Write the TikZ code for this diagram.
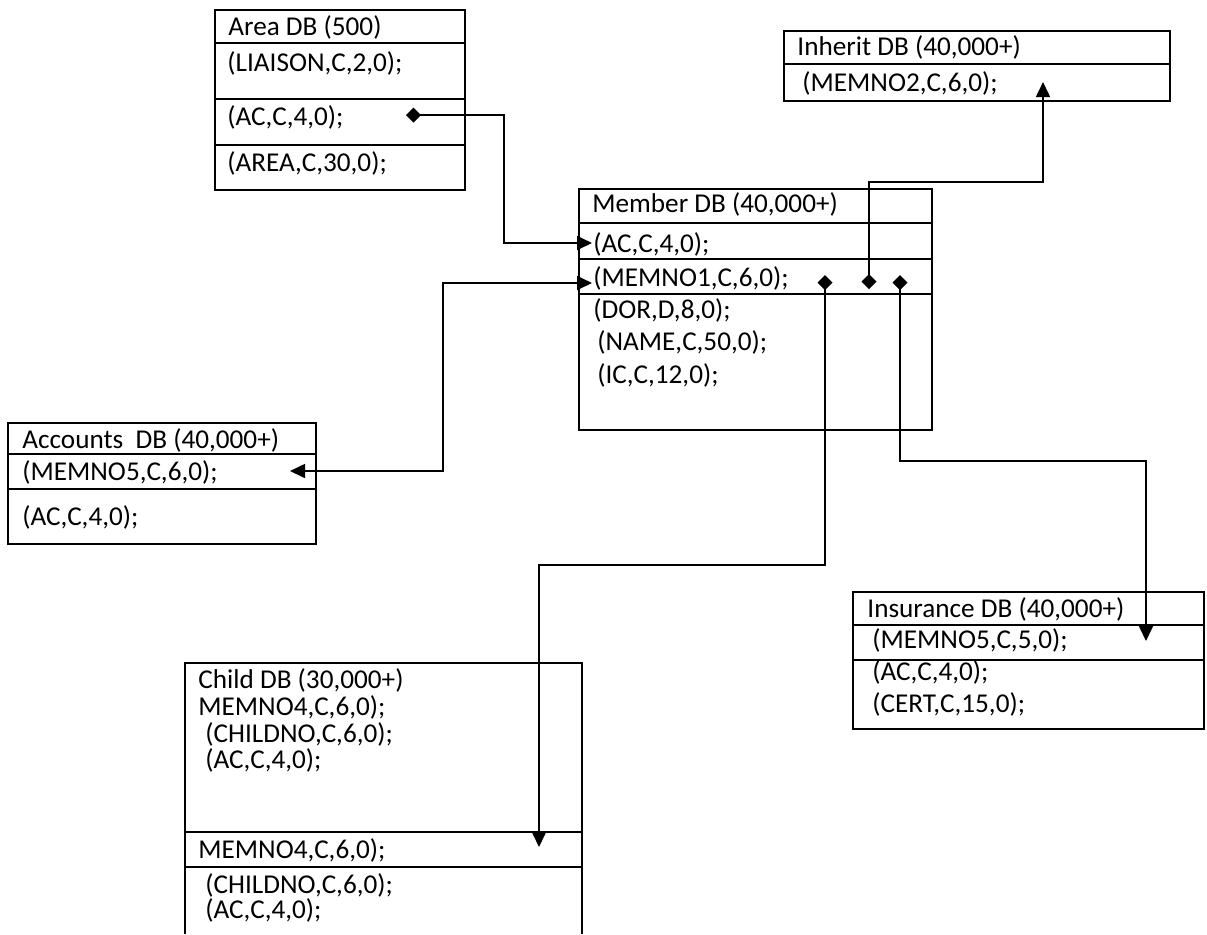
\documentclass[tikz,border=0pt]{standalone}
\usepackage{fontspec}
\setmainfont{Carlito}
\usetikzlibrary{arrows.meta,positioning,calc}

\begin{document}
\begin{tikzpicture}[
  x=0.5pt,y=-0.5pt,
  every node/.style={font=\fontsize{13.6}{14}\selectfont,inner sep=0pt,anchor=base west},
  tbl/.style={draw,line width=1pt,anchor=north west},
  sep/.style={line width=1pt},
  lnk/.style={line width=0.8pt},
  fk/.style={lnk,{Diamond[length=7.5pt,width=7.5pt]}-{Triangle[length=7.5pt,width=7pt]}},
  both/.style={lnk,{Triangle[length=7.5pt,width=7pt]}-{Triangle[length=7.5pt,width=7pt]}}
]
\useasboundingbox (0,0) rectangle (1207,934);

% tables
\node[tbl,minimum width=125pt,minimum height=90pt] (area) at (214,9) {};
\foreach \y in {43,99,145} \draw[sep] (area.west |- 0,\y) -- (area.east |- 0,\y);
\node[tbl,minimum width=193pt,minimum height=35pt] (inh) at (783,30) {};
\draw[sep] (inh.west |- 0,64) -- (inh.east |- 0,64);
\node[tbl,minimum width=176.5pt,minimum height=120.5pt] (mem) at (578,188) {};
\foreach \y in {223,259,294} \draw[sep] (mem.west |- 0,\y) -- (mem.east |- 0,\y);
\node[tbl,minimum width=154pt,minimum height=60.5pt] (acc) at (7,422) {};
\foreach \y in {454,489} \draw[sep] (acc.west |- 0,\y) -- (acc.east |- 0,\y);
\node[tbl,minimum width=175.5pt,minimum height=68.5pt] (ins) at (852,591) {};
\foreach \y in {625,660} \draw[sep] (ins.west |- 0,\y) -- (ins.east |- 0,\y);
% child table runs off the page
\draw[sep] (185,934) |- (582,663) -- (582,934);
\foreach \y in {832,867} \draw[sep] (185,\y) -- (582,\y);

% Area DB
\node (areaT) at (228,35) {Area DB (500)};
\node (areaL) at (227,71) {(LIAISON,C,2,0);};
\node (areaA) at (227,125) {(AC,C,4,0);};
\node (areaR) at (227,171) {(AREA,C,30,0);};
% Inherit DB
\node (inhT) at (797,55) {Inherit DB (40,000+)};
\node (inhM) at (802,91) {(MEMNO2,C,6,0);};
% Member DB
\node (memT) at (592,212) {Member DB (40,000+)};
\node (memA) at (593,252) {(AC,C,4,0);};
\node (memM) at (593,286) {(MEMNO1,C,6,0);};
\node (memD) at (593,318) {(DOR,D,8,0);};
\node (memN) at (597,350) {(NAME,C,50,0);};
\node (memI) at (597,383) {(IC,C,12,0);};
% Accounts DB
\node (accT) at (22,448) {Accounts\ \ DB (40,000+)};
\node (accM) at (22,480) {(MEMNO5,C,6,0);};
\node (accA) at (22,525) {(AC,C,4,0);};
% Insurance DB
\node (insT) at (867,617) {Insurance DB (40,000+)};
\node (insM) at (872,648) {(MEMNO5,C,5,0);};
\node (insA) at (872,680) {(AC,C,4,0);};
\node (insC) at (872,712) {(CERT,C,15,0);};
% Child DB
\node (chT) at (198,688) {Child DB (30,000+)};
\node (chM) at (198,715) {MEMNO4,C,6,0);};
\node (chC) at (205,742) {(CHILDNO,C,6,0);};
\node (chA) at (205,768) {(AC,C,4,0);};
\node (chM2) at (198,858) {MEMNO4,C,6,0);};
\node (chC2) at (205,893) {(CHILDNO,C,6,0);};
\node (chA2) at (205,918) {(AC,C,4,0);};

% link ends
\coordinate (areaAC) at (406,115);
\coordinate (memAC) at (592,243);
\coordinate (memNO) at (592,283);
\coordinate (accNO) at (290,471);
\coordinate (dChild) at (825,275);
\coordinate (dInh) at (869,289);
\coordinate (dIns) at (900,275);
\coordinate (chNO) at (539,847);
\coordinate (inhNO) at (1043,82);
\coordinate (insNO) at (1146,641);

% links
\draw[fk] (areaAC) -- ++(98,0) |- (memAC);
\draw[both] (accNO) -- ++(153,0) |- (memNO);
\draw[fk] (dChild) -- ++(0,290) -| (chNO);
\draw[fk] (dInh) -- ++(0,-107) -| (inhNO);
\draw[fk] (dIns) -- ++(0,186) -| (insNO);
\end{tikzpicture}
\end{document}
